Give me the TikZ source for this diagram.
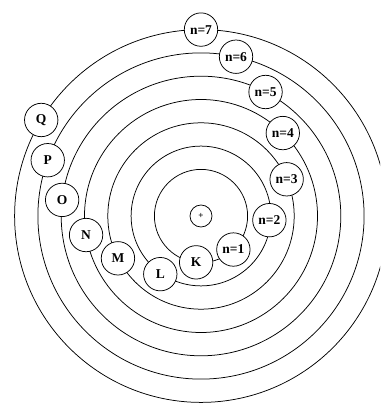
\documentclass[tikz,border=0pt]{standalone}
\usepackage{fontspec}
\setmainfont{Liberation Serif}
\usetikzlibrary{calc}
\begin{document}
\begin{tikzpicture}[x=1pt,y=1pt,
  orbit/.style={draw=black,line width=0.75pt},
  shell/.style={circle,draw=black,fill=white,line width=0.75pt,minimum size=33.4pt,inner sep=0pt,
    font=\fontsize{13.5}{14}\selectfont\bfseries},
  nucleus/.style={circle,draw=black,fill=white,line width=0.75pt,minimum size=22pt,inner sep=0pt,
    font=\fontsize{9}{10}\selectfont\bfseries}]
\useasboundingbox (0,0) rectangle (380,404);
\begin{scope}
\clip (0,0) rectangle (380,404);
\coordinate (c) at (201,188);
\foreach \n in {1,...,7} {
  \draw[orbit] (c) circle ({23.3*(\n+1)});
}
\end{scope}
\node[nucleus] (nuc) at (c) {+};
% right-hand labels
\node[shell] (n7) at ($(c)+(90:186.4)$) {n=7};
\node[shell] (n6) at ($(c)+(77.6:163.1)$) {n=6};
\node[shell] (n5) at ($(c)+(62.5:139.8)$) {n=5};
\node[shell] (n4) at ($(c)+(45.4:116.5)$) {n=4};
\node[shell] (n3) at ($(c)+(23.2:93.2)$) {n=3};
\node[shell] (n2) at ($(c)+(-3.5:68.5)$) {n=2};
\node[shell] (n1) at ($(c)+(-46:46.6)$) {n=1};
% left-hand shell letters
\node[shell] (K) at ($(c)+(-96:46.6)$) {K};
\node[shell] (L) at ($(c)+(-125:71)$) {L};
\node[shell] (M) at ($(c)+(-153:93.2)$) {M};
\node[shell] (N) at ($(c)+(-170.6:116.5)$) {N};
\node[shell] (O) at ($(c)+(173.4:139.8)$) {O};
\node[shell] (P) at ($(c)+(160:163.1)$) {P};
\node[shell] (Q) at ($(c)+(149:186.4)$) {Q};
\end{tikzpicture}
\end{document}
